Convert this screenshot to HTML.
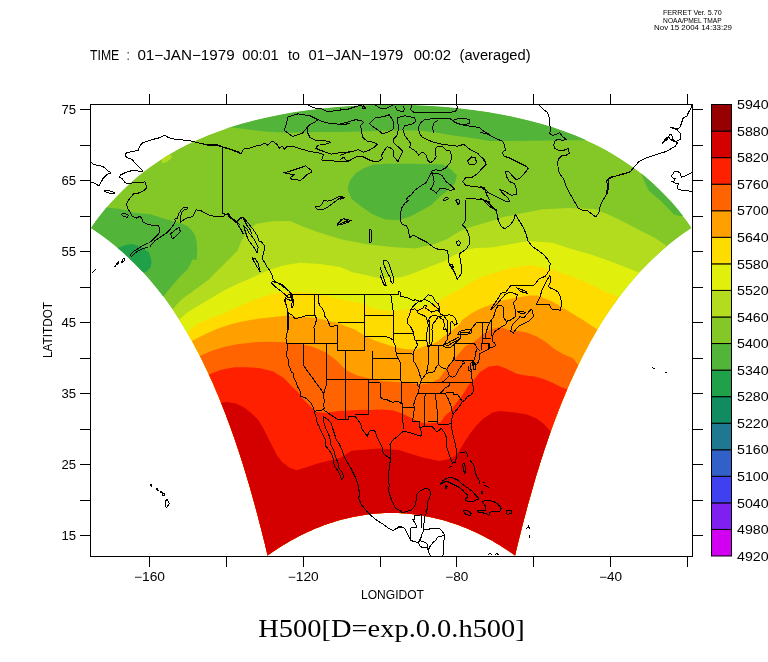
<!DOCTYPE html><html><head><meta charset="utf-8"><title>H500</title><style>html,body{margin:0;padding:0;background:#fff;}svg{display:block}text{font-family:"Liberation Sans",sans-serif;fill:#000}</style></head><body>
<svg width="768" height="662" viewBox="0 0 768 662">
<defs><clipPath id="fan"><polygon points="90.9,228.0 95.8,221.1 101.0,214.3 106.4,207.6 112.1,201.1 118.1,194.7 124.4,188.4 131.0,182.3 137.9,176.3 145.2,170.5 152.9,164.9 161.0,159.4 169.4,154.2 178.4,149.1 187.7,144.3 197.6,139.7 207.9,135.3 218.7,131.2 230.1,127.3 241.9,123.7 254.2,120.4 267.1,117.4 280.4,114.7 294.1,112.3 308.3,110.2 322.9,108.4 337.7,107.0 352.9,106.0 368.2,105.2 383.6,104.9 399.1,104.9 414.5,105.2 429.8,106.0 444.9,107.0 459.8,108.4 474.3,110.2 488.5,112.3 502.3,114.7 515.6,117.4 528.4,120.4 540.8,123.7 552.6,127.3 563.9,131.2 574.7,135.3 585.1,139.7 594.9,144.3 604.3,149.1 613.2,154.2 621.7,159.4 629.8,164.9 637.5,170.5 644.8,176.3 651.7,182.3 658.3,188.4 664.6,194.7 670.6,201.1 676.3,207.6 681.7,214.3 686.9,221.1 691.8,228.0 685.9,232.0 680.1,236.1 674.5,240.3 669.1,244.6 663.8,249.0 658.6,253.6 653.6,258.2 648.7,262.9 644.0,267.7 639.4,272.6 634.9,277.6 630.5,282.7 626.3,287.8 622.2,293.0 618.2,298.3 614.3,303.7 610.5,309.1 606.8,314.5 603.2,320.1 599.7,325.6 596.4,331.3 593.1,336.9 589.9,342.6 586.8,348.4 583.7,354.2 580.8,360.0 577.9,365.9 575.1,371.7 572.4,377.7 569.7,383.6 567.1,389.5 564.6,395.5 562.1,401.5 559.7,407.5 557.4,413.5 555.1,419.5 552.9,425.5 550.7,431.5 548.6,437.6 546.6,443.6 544.5,449.6 542.6,455.6 540.6,461.6 538.8,467.6 536.9,473.6 535.1,479.6 533.4,485.5 531.7,491.5 530.0,497.4 528.3,503.3 526.7,509.2 525.2,515.1 523.6,521.0 522.1,526.8 520.7,532.6 519.2,538.3 517.8,544.1 516.4,549.8 515.1,555.5 511.3,552.8 507.5,550.3 503.6,547.7 499.8,545.3 495.8,542.9 491.9,540.6 487.9,538.4 483.8,536.3 479.8,534.2 475.7,532.3 471.6,530.4 467.4,528.6 463.2,526.9 459.0,525.3 454.8,523.8 450.5,522.4 446.2,521.1 441.9,519.8 437.6,518.7 433.2,517.7 428.9,516.8 424.5,515.9 420.1,515.2 415.7,514.6 411.3,514.1 406.9,513.6 402.4,513.3 398.0,513.1 393.6,513.0 389.1,513.0 384.7,513.1 380.2,513.3 375.8,513.6 371.4,514.1 367.0,514.6 362.6,515.2 358.2,515.9 353.8,516.8 349.4,517.7 345.1,518.7 340.8,519.8 336.5,521.1 332.2,522.4 327.9,523.8 323.7,525.3 319.5,526.9 315.3,528.6 311.1,530.4 307.0,532.3 302.9,534.2 298.8,536.3 294.8,538.4 290.8,540.6 286.8,542.9 282.9,545.3 279.0,547.7 275.2,550.3 271.4,552.8 267.6,555.5 266.2,549.8 264.9,544.1 263.4,538.3 262.0,532.6 260.5,526.8 259.0,521.0 257.5,515.1 255.9,509.2 254.3,503.3 252.7,497.4 251.0,491.5 249.3,485.5 247.5,479.6 245.7,473.6 243.9,467.6 242.0,461.6 240.1,455.6 238.1,449.6 236.1,443.6 234.1,437.6 231.9,431.5 229.8,425.5 227.5,419.5 225.3,413.5 222.9,407.5 220.5,401.5 218.1,395.5 215.5,389.5 213.0,383.6 210.3,377.7 207.6,371.7 204.8,365.9 201.9,360.0 199.0,354.2 195.9,348.4 192.8,342.6 189.6,336.9 186.3,331.3 182.9,325.6 179.4,320.1 175.9,314.5 172.2,309.1 168.4,303.7 164.5,298.3 160.5,293.0 156.4,287.8 152.2,282.7 147.8,277.6 143.3,272.6 138.7,267.7 134.0,262.9 129.1,258.2 124.1,253.6 118.9,249.0 113.6,244.6 108.1,240.3 102.5,236.1 96.8,232.0"/></clipPath><clipPath id="frm"><rect x="90" y="104" width="603" height="453"/></clipPath></defs>
<g clip-path="url(#fan)">
<polygon points="90.9,228.0 95.8,221.1 101.0,214.3 106.4,207.6 112.1,201.1 118.1,194.7 124.4,188.4 131.0,182.3 137.9,176.3 145.2,170.5 152.9,164.9 161.0,159.4 169.4,154.2 178.4,149.1 187.7,144.3 197.6,139.7 207.9,135.3 218.7,131.2 230.1,127.3 241.9,123.7 254.2,120.4 267.1,117.4 280.4,114.7 294.1,112.3 308.3,110.2 322.9,108.4 337.7,107.0 352.9,106.0 368.2,105.2 383.6,104.9 399.1,104.9 414.5,105.2 429.8,106.0 444.9,107.0 459.8,108.4 474.3,110.2 488.5,112.3 502.3,114.7 515.6,117.4 528.4,120.4 540.8,123.7 552.6,127.3 563.9,131.2 574.7,135.3 585.1,139.7 594.9,144.3 604.3,149.1 613.2,154.2 621.7,159.4 629.8,164.9 637.5,170.5 644.8,176.3 651.7,182.3 658.3,188.4 664.6,194.7 670.6,201.1 676.3,207.6 681.7,214.3 686.9,221.1 691.8,228.0 685.9,232.0 680.1,236.1 674.5,240.3 669.1,244.6 663.8,249.0 658.6,253.6 653.6,258.2 648.7,262.9 644.0,267.7 639.4,272.6 634.9,277.6 630.5,282.7 626.3,287.8 622.2,293.0 618.2,298.3 614.3,303.7 610.5,309.1 606.8,314.5 603.2,320.1 599.7,325.6 596.4,331.3 593.1,336.9 589.9,342.6 586.8,348.4 583.7,354.2 580.8,360.0 577.9,365.9 575.1,371.7 572.4,377.7 569.7,383.6 567.1,389.5 564.6,395.5 562.1,401.5 559.7,407.5 557.4,413.5 555.1,419.5 552.9,425.5 550.7,431.5 548.6,437.6 546.6,443.6 544.5,449.6 542.6,455.6 540.6,461.6 538.8,467.6 536.9,473.6 535.1,479.6 533.4,485.5 531.7,491.5 530.0,497.4 528.3,503.3 526.7,509.2 525.2,515.1 523.6,521.0 522.1,526.8 520.7,532.6 519.2,538.3 517.8,544.1 516.4,549.8 515.1,555.5 511.3,552.8 507.5,550.3 503.6,547.7 499.8,545.3 495.8,542.9 491.9,540.6 487.9,538.4 483.8,536.3 479.8,534.2 475.7,532.3 471.6,530.4 467.4,528.6 463.2,526.9 459.0,525.3 454.8,523.8 450.5,522.4 446.2,521.1 441.9,519.8 437.6,518.7 433.2,517.7 428.9,516.8 424.5,515.9 420.1,515.2 415.7,514.6 411.3,514.1 406.9,513.6 402.4,513.3 398.0,513.1 393.6,513.0 389.1,513.0 384.7,513.1 380.2,513.3 375.8,513.6 371.4,514.1 367.0,514.6 362.6,515.2 358.2,515.9 353.8,516.8 349.4,517.7 345.1,518.7 340.8,519.8 336.5,521.1 332.2,522.4 327.9,523.8 323.7,525.3 319.5,526.9 315.3,528.6 311.1,530.4 307.0,532.3 302.9,534.2 298.8,536.3 294.8,538.4 290.8,540.6 286.8,542.9 282.9,545.3 279.0,547.7 275.2,550.3 271.4,552.8 267.6,555.5 266.2,549.8 264.9,544.1 263.4,538.3 262.0,532.6 260.5,526.8 259.0,521.0 257.5,515.1 255.9,509.2 254.3,503.3 252.7,497.4 251.0,491.5 249.3,485.5 247.5,479.6 245.7,473.6 243.9,467.6 242.0,461.6 240.1,455.6 238.1,449.6 236.1,443.6 234.1,437.6 231.9,431.5 229.8,425.5 227.5,419.5 225.3,413.5 222.9,407.5 220.5,401.5 218.1,395.5 215.5,389.5 213.0,383.6 210.3,377.7 207.6,371.7 204.8,365.9 201.9,360.0 199.0,354.2 195.9,348.4 192.8,342.6 189.6,336.9 186.3,331.3 182.9,325.6 179.4,320.1 175.9,314.5 172.2,309.1 168.4,303.7 164.5,298.3 160.5,293.0 156.4,287.8 152.2,282.7 147.8,277.6 143.3,272.6 138.7,267.7 134.0,262.9 129.1,258.2 124.1,253.6 118.9,249.0 113.6,244.6 108.1,240.3 102.5,236.1 96.8,232.0" fill="#84c828"/>
<polygon points="200.0,120.0 225.0,129.0 231.0,127.3 252.0,130.0 268.0,131.8 283.0,132.6 304.0,132.6 316.0,132.1 342.0,132.1 368.0,131.3 394.0,130.5 420.0,130.5 436.0,132.6 451.5,135.2 467.0,137.3 490.0,141.0 529.5,140.8 569.0,140.3 583.4,140.3 600.0,139.0 620.0,140.0 640.0,90.0 200.0,90.0" fill="#52b438"/>
<polygon points="347.6,189.1 349.5,181.2 355.4,173.4 363.2,168.6 373.0,164.6 388.6,163.7 408.1,163.7 427.7,164.1 443.3,164.6 451.1,169.5 457.0,175.4 455.0,183.2 447.2,191.0 439.4,196.9 431.6,204.7 421.8,210.5 410.1,216.4 398.4,220.3 384.7,219.3 373.0,214.5 361.2,206.6 351.5,198.8" fill="#52b438"/>
<polygon points="640.0,170.0 643.0,178.0 645.0,183.0 649.0,191.0 661.0,201.0 674.0,214.5 680.0,216.0 700.0,216.0 700.0,160.0" fill="#52b438"/>
<polygon points="80.0,205.0 105.9,207.2 110.6,208.0 118.4,208.8 126.2,210.3 134.1,212.7 141.9,213.4 149.7,214.2 157.5,216.6 165.3,218.9 173.1,221.2 180.9,223.6 187.2,225.9 191.9,230.6 195.0,235.3 196.6,241.6 197.3,249.4 196.6,260.0 192.7,259.3 188.0,268.7 179.8,276.9 172.7,285.1 166.9,292.1 164.5,295.6 150.0,300.0 80.0,300.0" fill="#52b438"/>
<polygon points="110.0,250.0 118.4,247.8 126.2,244.7 132.5,243.9 138.8,246.2 145.0,249.4 148.9,252.5 150.5,257.2 151.6,262.0 150.5,267.5 145.8,272.2 130.0,272.0" fill="#20a048"/>
<polygon points="161.5,160.5 164.0,156.0 168.0,154.5 172.0,155.5 171.0,158.5 166.0,162.5 162.5,163.0" fill="#b4dc1e"/>
<polygon points="150.0,330.0 172.7,309.7 176.2,305.0 183.3,298.0 190.3,293.3 199.7,286.2 209.1,279.2 218.4,269.8 227.8,260.5 237.2,251.1 241.5,241.0 248.9,229.0 256.7,223.8 272.3,221.2 290.0,221.0 303.0,226.4 316.0,231.6 342.1,239.4 368.1,244.6 394.2,247.2 415.0,248.5 433.2,244.6 446.3,239.4 459.3,231.6 472.3,226.4 490.0,221.5 503.2,217.1 516.3,214.5 542.6,209.2 568.9,207.9 595.2,209.2 608.4,214.5 624.9,222.4 643.1,232.1 655.1,238.1 664.2,244.2 680.0,256.0 680.0,600.0 150.0,600.0" fill="#b4dc1e"/>
<polygon points="160.0,340.0 179.8,319.0 188.0,312.0 199.7,305.0 211.4,298.0 223.1,290.9 237.2,283.9 253.6,276.9 270.0,269.8 284.0,265.2 300.0,262.8 320.0,264.0 340.0,267.0 347.2,270.0 351.9,272.3 361.3,273.9 370.6,276.3 376.9,277.8 389.4,277.8 400.9,277.3 410.0,274.6 419.2,271.0 428.3,267.3 437.4,263.7 444.7,260.9 452.0,256.4 459.3,252.7 466.6,250.0 475.0,248.0 492.0,247.5 510.1,244.2 528.3,241.1 552.4,242.7 570.5,248.7 591.7,254.7 612.8,262.3 628.0,268.3 640.0,272.9 665.0,285.0 665.0,600.0 160.0,600.0" fill="#e0f00c"/>
<polygon points="170.0,350.0 190.0,330.0 197.0,324.0 209.0,319.0 223.0,314.0 237.0,307.0 254.0,300.0 270.0,294.5 284.0,292.0 300.0,292.0 316.0,293.4 327.0,295.8 339.0,298.9 350.0,301.3 364.0,303.6 371.0,308.0 380.0,309.8 391.0,311.0 401.0,310.2 412.0,308.3 423.0,306.5 436.0,302.9 445.0,297.4 454.0,291.9 463.0,287.4 472.0,281.9 481.0,277.3 491.0,274.0 510.0,268.3 531.0,265.3 552.0,269.8 570.5,275.9 588.7,283.4 606.8,292.5 619.0,297.0 640.0,308.0 640.0,600.0 170.0,600.0" fill="#ffdc00"/>
<polygon points="175.0,355.0 192.6,340.4 203.0,335.2 216.0,329.2 229.0,324.7 242.0,321.4 257.7,318.8 273.3,316.9 288.0,315.5 296.0,316.9 305.0,316.9 314.4,317.7 322.2,319.2 331.6,321.6 338.0,323.1 345.6,326.3 355.0,329.4 364.4,335.6 373.4,340.0 379.3,342.0 391.0,345.9 402.8,348.8 414.6,349.8 420.0,348.0 426.3,345.5 431.5,344.5 436.7,341.9 440.8,338.8 445.0,335.6 449.2,332.5 453.3,329.4 457.5,326.3 460.6,323.1 462.0,320.0 472.0,312.9 481.1,308.3 490.3,304.7 499.4,301.0 508.5,299.2 517.6,297.4 530.0,295.6 537.3,295.5 552.4,301.6 567.5,310.6 582.6,319.7 596.2,328.8 615.0,342.0 615.0,600.0 175.0,600.0" fill="#ffa000"/>
<polygon points="185.0,365.0 200.0,356.0 211.0,351.0 224.0,347.0 237.0,344.3 252.5,342.4 268.0,341.7 284.0,342.2 299.0,343.8 312.0,346.4 325.0,352.0 336.0,360.0 346.0,370.0 357.0,375.5 370.0,378.5 383.0,381.2 399.0,382.2 411.0,383.2 420.0,384.2 426.0,383.7 432.0,382.8 436.4,380.0 439.0,379.0 444.0,372.0 448.0,367.0 453.0,360.6 457.5,355.4 461.7,350.2 465.8,346.0 472.0,342.9 478.0,338.8 482.5,334.6 487.0,331.5 491.0,329.4 500.0,327.0 509.0,330.0 518.0,331.0 527.5,332.8 536.6,336.4 545.7,341.9 554.8,349.2 564.0,354.6 573.0,358.3 578.5,365.6 595.0,380.0 595.0,600.0 185.0,600.0" fill="#ff6400"/>
<polygon points="195.0,382.0 209.5,374.2 221.3,369.8 234.3,367.2 247.3,367.2 260.3,368.2 273.3,371.6 283.8,378.0 291.0,385.5 298.4,392.8 303.9,400.0 309.4,405.5 316.7,411.9 324.0,412.8 331.2,411.9 340.0,411.0 350.0,410.5 360.0,409.7 370.0,410.0 380.0,409.4 392.5,410.2 403.4,414.1 411.3,418.0 419.0,421.9 426.9,423.4 434.7,422.7 441.0,422.0 443.7,417.4 447.3,413.8 451.0,411.0 453.7,406.5 456.5,402.8 460.0,398.0 463.0,394.6 465.6,390.0 469.0,384.6 473.0,381.0 476.5,376.4 480.0,372.0 489.0,366.5 498.0,365.6 507.0,369.0 516.6,373.8 525.7,375.6 534.8,376.5 544.0,379.2 553.0,383.0 562.0,387.4 567.6,389.3 585.0,398.0 585.0,600.0 195.0,600.0" fill="#ff2000"/>
<polygon points="205.0,410.0 220.0,402.8 227.3,401.9 236.5,403.7 243.7,407.3 251.0,412.8 258.3,420.1 262.9,427.4 267.4,436.5 272.0,445.6 276.6,454.7 282.0,462.0 289.3,467.5 296.6,470.2 305.7,467.5 316.7,463.8 327.6,461.1 340.0,458.0 351.6,450.8 367.2,449.5 380.0,448.4 389.4,449.2 398.8,450.0 411.3,453.9 423.8,457.8 439.4,460.9 447.2,459.4 455.0,456.3 459.7,450.0 464.4,442.2 470.6,432.8 476.9,425.0 483.1,418.8 492.5,412.5 500.0,410.9 509.3,412.0 518.4,413.0 527.5,414.8 536.6,418.4 543.9,423.9 549.4,430.0 555.0,440.0 555.0,600.0 205.0,600.0" fill="#d40000"/>
</g>
<g clip-path="url(#frm)" fill="none" stroke="#000" stroke-width="1" stroke-linejoin="round" shape-rendering="crispEdges">
<polyline points="91.0,162.2 93.9,164.8 98.8,165.2 103.7,167.1 107.7,170.7 111.2,173.0 107.7,174.0 104.7,176.9 102.8,178.9 100.8,182.8 98.8,185.8 95.9,183.8 92.0,182.4 91.0,182.8"/>
<polyline points="104.7,190.3 108.7,190.7 112.6,191.7 115.1,193.0 111.6,193.6 107.7,192.6 104.7,191.7 104.7,190.3"/>
<polyline points="240.0,153.4 235.3,151.4 229.4,149.1 223.5,147.5 215.7,145.1 209.8,145.1 205.8,144.5 200.0,143.2 192.1,141.2 180.3,139.6 174.4,139.2 168.5,137.7 164.6,135.3 159.7,137.7 153.8,139.2 148.9,140.6 143.0,142.6 140.1,145.5 138.1,150.4 133.2,151.4 127.3,152.4 125.3,154.4 126.3,157.3 132.2,159.3 134.2,162.2 137.1,165.2 140.1,168.1 142.0,170.1 142.6,171.4 138.1,171.1 133.2,170.1 129.3,171.4 125.3,172.6 120.4,175.0 119.5,176.9 122.4,178.9 125.3,182.8 129.3,183.8 133.2,182.8 139.1,182.8 145.0,181.8 146.0,184.8 146.9,187.7 144.0,190.7 140.1,192.3 137.1,193.6 134.2,193.0 132.2,195.6 130.3,197.6 128.3,200.5 126.3,204.4 128.3,209.3 130.3,212.3 132.2,216.2 136.1,218.2 140.1,216.2 142.0,219.2 143.0,222.1 146.9,224.1 150.9,225.0 154.8,226.0 158.7,225.0 159.7,230.0 158.7,233.9 154.8,237.8 151.8,240.8 148.9,242.7"/>
<polyline points="149.9,246.6 154.8,240.8 160.7,236.8 166.6,232.9 170.5,229.0 173.4,225.0 175.4,221.1 174.4,219.2 177.4,218.2 178.4,214.2 180.3,211.3 182.3,208.4 185.2,207.4 188.2,208.0 186.2,209.3 183.3,210.3 181.3,213.3 180.7,216.2 180.3,222.1 183.3,220.1 186.2,218.2 190.1,217.2 193.1,216.2 195.0,212.3 196.0,209.9 200.0,210.3 203.9,212.3 207.8,214.2 210.8,215.8 215.7,216.2 219.6,216.2 223.5,216.6 225.5,214.2 228.4,213.9 230.4,216.2 233.3,219.2 236.3,222.1 239.2,224.1 240.0,225.0"/>
<polyline points="222.7,147.5 222.7,213.9"/>
<polyline points="121.4,214.2 124.4,213.3 128.3,215.2 127.3,217.2 123.4,216.6 121.4,214.2"/>
<polyline points="170.5,233.9 176.4,229.0 179.3,227.0 180.3,231.9 177.4,234.9 172.5,238.8 170.5,233.9"/>
<polyline points="200.0,143.3 207.9,145.2 213.7,144.3 219.6,145.2 222.6,146.8 227.5,148.2 233.4,150.1 239.3,152.1 241.2,154.1 243.2,149.2 249.1,148.2 255.0,146.2 260.9,145.2 264.8,143.3 267.7,145.2 270.7,142.3 272.6,141.3 275.6,143.3 277.6,145.2 279.5,148.2 282.5,146.2 284.4,149.2 287.4,146.2 292.3,146.2 298.2,148.2 302.1,149.2 308.0,151.1 313.9,152.1 319.8,153.1 323.7,154.7 322.7,157.0 321.7,160.0 325.7,160.9 333.5,160.9 341.4,161.9 347.3,160.9 350.0,160.0"/>
<polyline points="222.6,146.8 222.6,213.0"/>
<polyline points="222.6,213.0 225.5,214.3 228.5,214.0 230.4,217.9 234.4,219.8 237.3,221.8 240.3,217.9 243.2,217.9 245.2,221.8 247.1,225.7 250.1,229.7 252.0,234.0"/>
<polyline points="237.3,223.8 241.2,229.7 243.2,234.0"/>
<polyline points="283.4,172.7 288.4,171.7 294.2,169.8 300.1,167.8 306.0,165.8 308.0,167.8 311.9,170.8 310.9,172.7 307.0,174.7 304.1,177.6 300.1,180.6 296.2,179.6 292.3,179.6 290.3,177.6 294.2,174.7 288.4,173.7 283.4,172.7"/>
<polyline points="314.9,207.1 319.8,206.1 322.7,203.2 323.7,200.2 327.6,201.2 331.6,200.2 335.5,198.2 339.4,196.3 344.3,197.3 339.4,198.2 335.5,201.2 331.6,204.1 327.6,207.1 323.7,209.0 317.8,210.0 314.9,207.1"/>
<polyline points="292.3,136.4 288.4,133.5 284.4,130.5 286.4,123.6 288.0,116.8 298.2,113.8 310.0,115.8 317.8,119.7 313.9,122.7 310.0,124.6 307.0,127.6 302.1,133.5 292.3,136.4"/>
<polyline points="307.0,127.6 308.0,133.5 310.0,137.4 315.8,140.3 325.7,140.9 330.6,142.3 325.7,144.3 317.8,145.2 315.8,148.2 319.8,150.1 325.7,152.1 331.6,154.1 337.4,153.1 345.3,152.1 350.0,152.1"/>
<polyline points="306.0,104.0 310.0,106.0 313.9,107.9 321.7,108.9 327.6,111.9 333.5,110.9 341.4,109.9 350.0,108.9"/>
<polyline points="317.8,119.7 325.7,122.7 333.5,123.6 341.4,124.6 350.0,123.6"/>
<polyline points="340.0,108.9 345.9,109.9 351.8,107.9 357.7,106.0 361.6,105.0"/>
<polyline points="375.3,105.0 379.3,107.9 385.2,108.9 389.1,106.9 393.0,105.0"/>
<polyline points="395.0,106.0 396.9,109.9 402.8,111.9 404.8,108.9 402.8,106.0"/>
<polyline points="411.7,105.0 410.7,109.9 414.6,112.8 426.4,112.8 438.2,112.8 450.0,112.8 455.8,110.9 457.8,106.9 455.8,105.0"/>
<polyline points="361.6,108.3 363.6,106.0 365.9,108.3 361.6,108.3"/>
<polyline points="369.5,123.6 375.3,117.7 383.2,116.8 389.1,114.8 392.0,118.7 394.0,123.6 393.0,129.5 387.1,132.5 382.2,133.5 377.3,129.5 371.4,125.6 369.5,123.6"/>
<polyline points="340.0,123.6 345.9,122.7 351.8,120.7 355.7,119.7 361.6,120.7 363.6,122.7 360.6,125.6 361.6,131.5 362.6,137.4 367.5,141.3 373.4,142.3 377.3,144.3 374.4,147.2 369.5,150.1 363.6,152.1 357.7,149.6 353.7,151.1 347.9,152.1 343.9,154.1 340.0,155.4"/>
<polyline points="340.0,160.0 343.9,157.0 345.9,160.0 347.9,161.9 351.8,159.0 357.7,156.0 363.6,157.0 369.5,160.0 375.3,161.9 379.3,160.9 383.2,158.0 381.2,156.0 383.2,152.1 387.1,146.8 391.1,148.2 394.0,151.1 393.0,156.0 396.0,159.0 397.9,161.9 400.9,155.1 402.8,151.1 398.9,147.2 396.0,145.2 393.0,142.3 394.0,138.4 396.9,135.4 397.9,131.5 398.9,127.6 397.9,123.6 397.9,117.7 404.8,115.8 414.6,117.7 415.6,121.7 410.7,124.6 404.8,125.6 402.8,129.5 404.8,135.4 407.7,139.3 410.7,143.3 409.7,147.2 412.6,149.2 416.6,152.1 418.5,155.1 422.5,152.1 426.4,155.1 427.4,160.0 430.3,162.9 433.3,160.9 436.2,157.0 435.2,151.1 436.2,147.2 442.1,146.2 446.0,150.1 450.0,151.1 451.9,157.0 450.0,162.9 446.0,167.8 440.1,170.8 436.2,169.8 432.3,170.8 430.3,174.7 426.4,182.5 418.5,187.4 414.6,190.4 411.7,194.3 407.7,197.3 405.8,200.6"/>
<polyline points="431.3,171.7 434.2,173.7 438.2,173.7 442.1,175.7 446.0,181.6 450.0,184.5 454.9,189.4 450.0,190.4 444.1,188.4 440.1,188.4 436.2,193.3 433.3,190.4 430.3,189.4 432.3,186.5 434.2,181.6 433.3,176.6 431.3,171.7"/>
<polyline points="418.5,127.6 420.5,122.7 424.4,119.7 432.3,118.7 442.1,118.1 450.0,118.7 453.9,121.7 457.8,123.6 465.7,125.6 473.5,126.6 479.4,127.6 485.3,132.5 490.0,134.4"/>
<polyline points="434.2,133.5 432.3,127.6 434.2,122.7 438.2,120.1"/>
<polyline points="418.5,127.6 419.5,133.5 422.5,137.4 428.4,140.3 434.2,142.3 442.1,144.3 450.0,145.2 457.8,146.2 463.7,144.3 469.6,149.2 477.4,153.1 483.3,159.0 486.3,164.9 481.4,169.8 477.4,173.7 471.6,177.6 465.7,177.6 462.7,181.6 465.7,185.5 473.5,186.5 481.4,187.4 485.3,190.4 487.3,196.3 490.0,200.2"/>
<polyline points="453.9,119.7 457.8,118.7 465.7,118.7 469.6,119.7 469.6,123.6 463.7,124.6 457.8,123.6 453.9,121.7 453.9,119.7"/>
<polyline points="467.6,160.9 471.6,157.0 475.5,158.0 476.5,162.9 473.5,164.9 469.6,164.9 467.6,160.9"/>
<polyline points="490.0,202.2 485.3,200.2 477.4,199.2 469.6,198.2 465.7,199.2"/>
<polyline points="443.1,200.2 446.0,197.3 449.0,198.2 446.0,200.2 443.1,200.2"/>
<polyline points="455.8,200.2 458.8,199.2 459.8,202.2 457.8,205.1 455.8,200.2"/>
<polyline points="340.0,196.3 343.9,197.9 340.0,199.2"/>
<polyline points="340.0,219.8 343.9,218.9 349.8,221.8 343.9,223.8 340.0,224.8"/>
<polyline points="480.0,132.5 485.9,133.5 491.8,136.4 497.7,139.3 502.6,141.3 504.5,145.2 505.5,150.1 502.6,152.1 503.6,156.0 509.5,158.0 515.3,160.9 521.2,163.9 527.1,166.8 528.1,168.8 524.2,173.7 519.3,178.6 516.3,179.6 512.4,175.7 508.5,171.7 505.5,171.7 506.5,176.6 509.5,181.6 514.4,183.5 516.3,188.4 516.3,194.3 511.4,195.3 506.5,192.4 502.6,190.4 499.6,189.4 503.6,194.3 508.5,198.2 509.5,201.2 505.5,201.2 499.6,198.2 493.7,195.3 487.9,192.4 483.9,187.4 480.0,186.5"/>
<polyline points="480.0,156.0 483.9,159.0 485.9,162.9 483.9,166.8 480.0,169.8"/>
<polyline points="480.0,198.2 483.9,200.2 487.9,202.2 491.8,206.1 495.7,210.0 497.7,215.9 498.7,221.8 501.6,226.7 504.5,228.7 509.5,225.7 513.4,220.8 515.3,214.0 517.3,217.9 521.2,223.8 524.2,229.7 526.1,234.0"/>
<polyline points="538.9,105.0 542.8,108.9 546.8,111.9 548.7,115.8 549.7,119.7 549.7,124.6 550.7,129.5 549.7,133.5 552.6,135.4 556.6,134.4 559.5,132.5 562.5,136.4 566.4,139.3 562.5,140.3 557.6,139.3 554.6,141.3 553.6,145.2 554.6,148.2 558.5,150.1 564.4,150.1 568.4,148.2 569.3,153.1 566.4,155.1 561.5,156.0 558.5,159.0 557.6,162.9 558.5,170.8 560.5,174.7 563.4,178.6 565.4,184.5 567.4,188.4 570.3,194.3 574.2,201.2 578.2,208.1 582.1,210.0 588.0,211.0 591.9,214.0 595.8,216.9 598.8,213.0 599.8,208.1 601.7,202.2 604.7,197.3 607.6,192.4 608.6,186.5 608.6,181.6 607.6,179.6 609.6,178.6 613.5,176.6 617.4,175.7 623.3,173.7 630.0,171.7"/>
<polyline points="606.0,194.0 607.6,187.7 606.8,180.9 610.6,177.1 621.1,174.8 630.2,171.8 634.7,166.5 639.3,161.2 645.3,158.2 654.4,155.2 666.5,151.4 675.5,146.1 677.8,142.3 674.0,141.6 670.2,139.3 668.7,136.3 665.7,138.6 662.7,143.1 667.2,139.3 669.5,134.8 671.8,134.8 672.5,139.3 675.5,141.6 680.1,139.3 680.1,133.3 676.3,128.7 670.2,127.2 677.0,129.5 680.1,127.2 681.6,122.7 683.1,118.2 686.9,115.9 689.1,111.4 691.4,107.6 691.4,104.6"/>
<polyline points="692.1,172.5 689.1,174.1 684.6,176.3 681.6,177.1 680.1,173.3 677.0,171.0 674.0,171.8 672.5,174.8 671.0,176.3 672.5,177.8 675.5,178.6 674.0,180.9 671.8,181.6 675.5,183.1 678.5,183.9 677.8,186.1 677.0,188.4 680.1,189.9 686.1,190.7 692.1,191.4"/>
<polyline points="222.8,213.7 227.7,214.7 229.6,217.7 232.6,219.6 235.5,222.6 239.5,218.7 243.4,217.7 245.3,219.6 249.3,224.5 253.2,229.5 257.1,235.3 259.1,241.2 262.0,242.2 264.0,245.2 264.0,251.1 263.0,255.0 262.0,258.9 265.0,262.8 266.9,266.8 269.9,270.7 271.8,274.6 272.8,278.5 274.8,281.5 278.7,283.4 282.6,286.4 286.6,289.3 289.5,291.3 291.5,293.3 292.5,296.2 291.5,300.1 293.4,303.1 292.5,298.2 290.5,294.2 287.6,295.2 285.6,297.2 284.6,300.1 285.6,304.1 287.6,310.0 288.5,313.9 288.5,317.8 288.5,330.0"/>
<polyline points="243.4,225.5 245.3,231.4 247.3,237.3 249.3,241.2 252.2,245.2 255.2,249.1 257.1,253.0 258.1,247.1 256.1,243.2 254.2,239.3 251.2,235.3 249.3,233.4 247.3,229.5 244.4,226.5 243.4,225.5"/>
<polyline points="252.2,257.9 255.2,258.9 258.1,262.8 259.1,267.7 260.1,271.7 257.1,266.8 254.2,261.8 252.2,257.9"/>
<polyline points="271.8,281.5 276.8,282.5 281.7,284.4 285.6,287.4 288.5,290.3 290.5,293.3 290.5,297.2 287.6,297.2 283.6,293.3 278.7,289.3 274.8,286.4 271.8,283.4 271.8,281.5"/>
<polyline points="336.6,225.5 339.6,221.6 343.5,218.7 347.4,219.6 351.4,220.6 345.5,221.6 340.6,223.6 336.6,225.5"/>
<polyline points="408.9,200.0 405.0,203.1 401.9,207.8 400.3,214.1 400.3,220.3 401.9,224.2 406.6,225.8 408.1,228.9 408.9,233.6 409.7,237.5 413.6,235.2 417.5,237.5 422.2,239.8 426.9,242.2 430.0,244.5 433.1,246.9 437.8,249.2 442.5,249.7 447.2,250.3 448.0,253.9 448.0,258.6 448.8,262.5 450.3,265.6 452.7,268.8 455.0,273.4 457.3,279.7 458.1,278.1 460.5,275.0 462.0,271.1 461.2,265.6 460.5,260.9 459.7,256.2 458.9,253.9 462.8,251.6 466.7,248.4 469.1,244.5 469.8,239.1 468.3,233.6 466.7,229.7 464.4,226.6 462.0,225.0 464.4,222.7 465.9,218.8 465.9,214.1 465.2,209.4 465.9,206.2 465.2,202.3 465.2,200.0"/>
<polyline points="449.5,264.8 451.9,264.1 453.4,267.2 451.9,268.4 449.5,264.8"/>
<polyline points="456.6,241.4 458.9,240.6 460.5,243.0 459.7,245.3 457.3,245.3 456.6,241.4"/>
<polyline points="483.1,200.0 486.2,203.1 489.4,206.2 492.5,208.6 496.4,209.4 497.2,215.6 498.0,220.3 500.0,223.4"/>
<polyline points="456.6,200.0 457.3,203.1 458.1,204.7 459.7,203.1 459.7,200.0"/>
<polyline points="383.1,260.9 386.2,260.2 388.6,262.5 390.2,267.2 391.7,271.9 393.3,276.6 394.1,281.2 392.5,283.6 390.9,281.2 390.2,277.3 387.8,273.4 385.5,268.8 383.9,264.8 383.1,260.9"/>
<polyline points="380.0,267.2 381.6,271.9 383.1,276.6 384.7,281.2 386.2,285.2 384.7,285.6 383.1,282.8 381.6,278.9 380.0,275.0"/>
<polyline points="148.0,243.1 142.7,245.5 138.0,248.6 133.3,251.7 130.2,254.5 131.4,256.4 134.1,253.7 138.0,250.9 142.7,248.6 148.0,247.0"/>
<polyline points="114.6,267.3 116.9,263.4 118.5,261.9 118.1,263.4 116.1,265.0"/>
<polyline points="120.8,263.0 122.4,261.1 122.8,259.1 124.3,258.8 124.7,260.3 123.5,261.9 121.6,263.0"/>
<polyline points="92.3,272.4 95.8,269.3"/>
<polyline points="369.3,229.0 371.2,230.0 371.5,236.0 371.0,242.5 369.5,242.0 369.3,236.0 369.3,229.0"/>
<polyline points="395.0,529.4 399.0,526.4 402.0,526.9 405.0,528.9 407.0,532.9 409.0,536.9 410.5,540.3 414.9,541.8 418.4,542.8 419.9,545.8 421.9,547.3 424.9,547.8 426.9,547.3 427.9,549.8 428.9,552.8 430.4,556.0"/>
<polyline points="421.9,514.9 414.9,515.4 414.4,519.4 412.4,519.4 415.9,523.9 416.4,527.4 411.0,527.9 410.0,531.9 410.0,537.9 410.5,540.3"/>
<polyline points="421.9,514.9 421.9,528.4"/>
<polyline points="426.9,508.9 426.4,512.9 424.9,515.9 424.4,519.9 423.9,523.9 423.4,528.4 423.9,529.9 427.9,529.4 431.9,528.4 435.9,528.4 439.9,528.9 441.9,530.9 443.9,533.9 444.4,535.9 443.9,541.8 443.4,549.8 442.9,556.0"/>
<polyline points="423.9,529.9 421.9,533.9 420.9,537.9 419.4,540.8 418.4,542.8"/>
<polyline points="419.4,540.8 422.9,541.3 425.9,542.8 427.4,544.8 426.9,547.3"/>
<polyline points="443.9,535.4 440.9,536.4 437.9,536.9 435.9,539.9 433.9,541.8 431.9,543.8 430.4,545.8 428.9,548.8 427.9,549.8"/>
<polyline points="460.2,453.0 463.4,452.4 466.0,451.7 467.3,454.3 468.0,456.9"/>
<polyline points="469.9,460.2 472.6,463.4 474.5,467.3 475.2,472.6 477.1,477.1 479.1,480.4 479.7,483.6"/>
<polyline points="462.8,464.1 464.1,463.4 465.4,466.7 466.0,471.2 464.7,473.2 463.4,469.9 462.8,466.0 462.8,464.1"/>
<polyline points="483.0,483.0 484.9,482.3"/>
<polyline points="484.3,485.6 486.2,486.2 489.5,487.5"/>
<polyline points="481.7,490.8 483.0,492.1 482.3,493.4 481.0,492.7 481.7,490.8"/>
<polyline points="449.1,467.3 451.7,466.0"/>
<polyline points="440.0,484.3 442.6,481.0 446.5,478.4 450.4,477.5 454.3,478.4 458.2,480.4 460.8,483.0 463.4,484.9 466.0,486.9 469.9,489.5 473.2,492.1 475.2,494.7 477.8,497.3 479.1,499.2 476.5,499.9 473.9,501.2 469.9,501.2 466.0,500.9 465.4,499.2 466.7,497.9 468.0,496.6 467.3,494.7 464.1,492.1 462.8,490.1 460.8,488.8 458.2,486.9 455.6,485.6 453.0,484.3 450.4,483.0 447.8,481.7 445.2,481.7 442.6,483.0 440.0,484.9"/>
<polyline points="445.2,485.6 447.2,486.2 446.5,488.8 445.2,488.2 445.2,485.6"/>
<polyline points="481.7,501.8 485.6,500.5 489.5,500.9 493.4,501.2 497.3,503.8 499.9,506.4 501.2,509.0 499.9,511.0 496.0,511.6 492.1,511.6 489.5,512.9 488.8,515.5 486.2,513.6 483.0,512.9 479.1,512.3 477.1,511.0 480.4,510.3 484.9,511.0 485.6,507.7 484.9,505.1 483.6,503.2 481.7,501.8"/>
<polyline points="463.4,511.0 466.0,510.3 469.3,511.6 471.2,513.6 470.6,515.3 467.3,514.9 464.7,513.6 463.4,511.0"/>
<polyline points="506.4,510.3 511.0,510.3 511.6,513.6 507.1,514.2 506.4,510.3"/>
<polyline points="652.5,367.5 655.0,369.0"/>
<polyline points="664.5,372.5 667.0,372.5"/>
<polyline points="526.5,529.0 528.5,526.0 529.5,529.0"/>
<polyline points="529.0,535.0 530.0,538.0"/>
<polyline points="488.0,555.0 490.0,553.0 492.0,555.0"/>
<polyline points="495.0,555.0 497.0,553.5 499.0,555.0"/>
<polyline points="410.4,310.4 414.6,308.7 416.9,311.1 420.0,309.4 422.6,308.3 424.6,305.5 426.9,305.1 425.3,308.3 428.0,309.7 431.9,312.2 437.6,310.1 439.2,312.2 439.5,308.3 438.4,304.0 435.3,301.6 432.6,296.2 428.0,294.8 424.6,298.7 421.1,301.2 418.4,301.9 413.4,305.8 410.4,310.4"/>
<polyline points="426.9,346.6 429.2,346.3 430.7,345.6 432.6,341.0 433.0,335.3 431.9,329.6 433.0,323.9 435.3,321.1 437.6,317.5 438.4,316.8 435.7,315.0 431.9,316.1 429.9,317.5 427.6,321.8 428.4,325.3 427.6,328.2 426.9,333.1 426.5,337.4 426.9,341.7 427.6,344.5 426.9,346.6"/>
<polyline points="438.8,316.5 443.4,315.8 449.2,314.7 453.0,315.8 455.7,318.9 457.2,323.2 454.9,325.3 451.8,321.1 450.3,323.2 450.7,328.2 450.3,333.1 447.6,336.7 447.2,332.4 445.7,328.9 443.8,329.6 444.2,323.9 443.4,319.7 440.7,318.2 438.8,316.5"/>
<polyline points="443.4,345.9 446.5,347.7 450.3,347.4 454.9,343.8 460.3,338.1 457.6,337.8 454.5,339.5 449.9,341.7 446.5,343.8 444.5,343.1 443.4,345.9"/>
<polyline points="457.6,334.6 460.7,334.9 466.4,334.6 471.1,333.1 471.4,328.9 468.4,329.6 462.6,330.3 459.1,332.1 457.6,334.6"/>
<polyline points="389.2,485.8 388.5,480.1 388.8,471.6 389.6,464.5 391.0,457.8 390.4,451.7 390.0,444.6 392.3,440.4 398.1,436.1 400.4,433.3 403.8,431.1 409.6,432.6 413.8,434.0 417.7,435.4 420.7,436.1 421.9,434.0 420.0,427.6 424.2,426.2 427.6,426.9 431.9,426.2 436.1,431.1 438.0,431.1 441.5,428.3 444.2,432.6 446.5,437.5 446.1,443.2 446.8,447.5 448.8,453.1 450.3,458.1 452.6,463.1 455.3,462.4 456.5,457.4 456.8,451.7 455.3,444.6 454.5,440.4 453.0,434.7 451.5,427.6 451.5,421.9 452.2,416.9 453.8,413.4 457.2,409.1 459.9,405.6 462.6,401.3 464.9,400.6 467.2,396.3 470.3,395.6 473.7,391.4 472.6,382.8 472.2,379.3 471.1,375.8 471.1,370.1 470.3,363.7 472.2,361.5 473.4,367.9 474.9,370.1 475.7,366.5 474.1,362.3 476.0,365.1 478.3,362.3 479.9,356.6 479.9,353.7 483.7,351.6 487.6,349.5 489.9,348.1 492.6,347.4 495.3,345.9 494.9,343.1 492.6,341.7 492.2,337.4 494.5,331.7 497.9,329.6 501.4,326.8 504.9,325.3 506.8,323.2 507.2,321.1 511.4,319.7 515.2,316.8 516.0,311.9 514.8,308.3 513.3,302.6 516.0,299.8 517.2,294.8 512.5,292.7 508.7,292.7 504.9,294.8 501.0,299.1 497.2,304.0 493.3,307.6 490.6,309.7 493.3,305.5 497.2,299.8 501.0,293.4 506.0,292.0 510.6,285.6 518.3,285.6 526.0,285.6 533.7,285.6 539.4,278.5 545.2,276.4 549.0,270.7 550.2,263.6 547.1,258.6 543.3,254.3 537.5,250.1 531.7,245.8 527.9,240.8 526.0,233.8"/>
<polyline points="510.6,331.0 513.3,333.1 517.2,327.5 520.2,325.3 526.0,322.5 529.8,320.4 533.7,316.1 531.7,309.0 528.7,311.9 524.1,317.5 519.8,316.8 516.8,320.4 512.5,324.6 510.6,331.0"/>
<polyline points="516.8,311.1 522.1,314.0 526.0,312.6 520.2,311.1 516.8,311.1"/>
<polyline points="536.4,304.0 539.8,297.6 542.1,289.8 545.2,283.4 549.8,275.6 551.0,280.6 548.3,286.3 551.0,288.4 554.8,289.8 558.6,292.7 560.6,297.6 561.7,304.8 560.2,310.4 556.7,309.0 551.7,309.0 549.0,304.0 543.3,304.0 536.4,304.0"/>
<polyline points="516.4,287.7 526.0,291.3 527.1,293.4 520.2,291.3 516.4,287.7"/>
<polyline points="292.4,294.1 291.3,296.9 293.6,299.8 293.9,304.8 292.0,307.6 291.3,304.8 292.8,301.2 289.7,300.1 285.1,298.4 285.5,301.9 287.4,309.0 287.8,313.6 288.0,318.9 287.6,325.3 287.2,331.7 285.9,338.1 287.0,343.8 287.0,350.9 286.3,355.2 288.6,360.1 289.0,365.8 291.6,372.2 293.6,373.6 293.9,377.9 295.9,382.1 297.4,386.4 300.5,392.1 300.9,396.3 305.1,397.8 308.9,400.6 310.9,402.7 313.5,407.7 314.3,411.2 315.8,416.2 317.4,423.3 319.3,426.9 321.6,432.6 325.1,438.9 325.8,443.2 325.1,445.3 329.3,450.3 332.4,455.3 333.5,460.2 334.3,465.9 338.5,471.6 341.6,479.4 343.9,477.3 342.0,471.6 339.3,469.5 338.1,463.1 335.8,457.4 333.9,451.0 330.8,444.6 329.7,436.8 326.2,429.7 323.9,422.6 323.1,416.2 328.1,419.8 330.8,422.6 333.1,429.7 336.6,440.4 339.3,443.9 342.0,450.3 344.7,457.4 347.7,463.1 351.2,468.8 355.4,477.3 358.5,486.5 359.6,495.0 358.5,497.9 361.2,504.3 365.0,509.2 370.4,514.9 376.2,519.9 381.9,523.4 387.7,527.7 393.4,530.5 398.4,527.7 402.3,527.7"/>
<polyline points="389.2,485.8 388.5,490.8 390.8,497.9 393.8,505.0 395.8,508.5 400.0,510.6 402.3,512.8 406.9,511.4 411.1,509.9 413.4,507.8 415.7,503.5 416.9,494.3 420.3,490.8 425.3,488.6 429.6,489.3 430.7,494.3 428.0,501.4 426.9,510.6 424.9,511.4"/>
<polyline points="168.7,502.1 166.8,499.3 165.3,501.4 165.3,506.4 166.4,507.5 169.5,503.5 168.7,502.1"/>
<polyline points="164.9,493.6 162.6,492.9 162.2,495.0 164.9,495.7 164.9,493.6"/>
<polyline points="161.0,491.5 159.9,492.2 162.2,492.2 161.0,491.5"/>
<polyline points="157.2,487.9 156.0,489.3 158.3,490.8 157.2,487.9"/>
<polyline points="151.8,484.4 150.3,485.1 151.4,486.5 151.8,484.4"/>
<polyline points="420.0,301.2 424.6,299.4 429.9,301.9 435.7,306.9 438.4,309.0 439.2,311.9 441.1,314.7 443.0,315.0 447.2,320.4 447.6,336.7 447.2,339.5 444.9,343.1 444.9,344.5 447.6,345.9 453.0,342.4 457.6,340.2 460.7,337.4 460.5,334.9 459.9,333.1 464.5,332.4 469.1,332.4 471.1,328.9 473.0,326.8 476.0,323.2 477.2,322.5"/>
<polyline points="427.6,321.8 429.9,320.4 429.2,329.6 429.2,340.2 429.9,343.8 430.7,345.5"/>
<polyline points="290.5,294.1 398.6,294.1 398.6,291.4 400.0,292.0 400.7,296.2 405.0,297.3 408.4,298.0 412.7,300.5 415.3,299.8 420.0,301.2"/>
<polyline points="477.2,322.5 489.5,322.5 491.0,320.4 492.9,318.2 494.1,315.4 495.3,310.4 498.3,305.1 501.8,305.8 503.7,307.6 503.7,317.5 506.4,321.8"/>
<polyline points="287.8,313.6 291.6,314.3 294.7,318.2 299.3,317.9 304.7,316.1 307.0,315.4 315.1,315.4"/>
<polyline points="314.5,294.1 314.5,312.6 315.1,315.4 316.6,318.9 315.5,323.9 313.9,327.5 314.6,331.0 314.6,343.8"/>
<polyline points="287.0,343.8 337.6,343.8"/>
<polyline points="318.3,294.1 318.3,301.3 319.7,305.5 321.2,306.9 323.9,311.1 324.7,316.1 327.0,318.9 328.5,322.5 330.1,326.0 332.4,326.8 335.8,325.3 337.6,326.0 337.6,350.9 364.4,350.9"/>
<polyline points="337.6,322.5 364.4,322.5"/>
<polyline points="364.4,294.1 364.4,350.9"/>
<polyline points="303.2,343.8 303.2,365.1 323.8,393.5 323.9,398.5 324.7,400.6 323.5,404.9 324.3,407.7 323.5,409.8"/>
<polyline points="326.0,343.8 326.0,385.7 323.8,393.5"/>
<polyline points="326.0,379.3 372.1,379.3"/>
<polyline points="345.2,350.9 345.2,419.6"/>
<polyline points="372.1,350.9 372.1,379.3"/>
<polyline points="314.3,411.2 323.5,409.8 337.7,419.6 348.5,419.6 348.5,416.4 355.0,416.4 355.4,416.6 360.8,424.0 361.9,429.0 367.3,436.1 369.6,431.1 374.6,430.4 378.1,439.6 381.9,446.8 383.5,453.8 389.6,458.1 391.0,457.8"/>
<polyline points="354.6,414.8 368.2,414.8 368.2,382.8 380.0,382.8 380.0,396.6 383.1,399.2 387.3,399.9 391.5,402.0 394.2,402.0 398.4,401.3 401.1,403.4 402.9,403.8"/>
<polyline points="368.5,382.8 368.5,379.3"/>
<polyline points="372.1,379.3 400.7,379.3"/>
<polyline points="400.7,379.3 401.3,382.8 401.3,390.7 401.1,403.4"/>
<polyline points="372.1,358.0 398.1,358.0"/>
<polyline points="400.7,379.3 400.7,364.4 399.6,360.8 398.1,358.0 396.1,353.7 395.8,349.5 395.0,345.2 393.1,340.2 389.6,337.8 385.8,336.7 364.4,336.7"/>
<polyline points="364.4,315.8 393.2,315.8"/>
<polyline points="393.2,315.8 393.1,311.1 392.3,304.8 391.5,299.8 390.8,294.1"/>
<polyline points="393.2,315.8 393.6,320.4 393.6,333.1 393.1,340.2"/>
<polyline points="393.6,333.1 413.8,333.1"/>
<polyline points="410.7,310.4 409.6,314.7 408.0,318.2 407.7,323.9 410.7,326.8 413.8,333.1 414.2,338.8 416.1,341.0 417.7,345.2 414.2,350.2 413.0,355.2 413.0,360.1 416.1,365.1 417.7,367.9 420.3,376.5 421.9,379.4 420.3,382.8 419.6,386.4 418.0,392.8 416.1,397.1 413.8,404.1 414.2,408.4 413.8,414.1 412.3,421.9"/>
<polyline points="396.1,353.7 411.9,353.7 413.0,355.2"/>
<polyline points="416.1,340.2 426.9,340.2"/>
<polyline points="416.9,311.4 418.0,313.3 421.9,314.7 426.1,316.8 427.6,321.8"/>
<polyline points="428.0,345.9 428.0,365.1 427.6,368.6 426.1,373.6"/>
<polyline points="438.4,345.9 438.4,364.4"/>
<polyline points="428.0,345.9 443.4,345.9"/>
<polyline points="421.9,379.4 426.1,373.6 428.0,372.9 431.9,372.9 434.6,370.8 436.1,367.2 438.4,364.4 440.3,366.5 442.6,367.9 446.8,369.4 448.4,366.5 450.3,363.7 453.4,360.1 454.5,353.7"/>
<polyline points="420.3,382.8 450.3,382.1"/>
<polyline points="446.8,369.4 449.5,375.8 442.6,382.1"/>
<polyline points="450.3,382.1 449.2,385.7 445.3,387.8 440.3,393.5 417.3,393.5"/>
<polyline points="401.3,382.8 417.8,382.8 418.0,386.4 419.6,386.4"/>
<polyline points="402.9,403.8 402.9,407.7 414.0,407.7"/>
<polyline points="402.9,407.7 402.9,421.9 403.8,429.0"/>
<polyline points="412.3,421.9 419.4,421.9 420.0,427.6"/>
<polyline points="425.3,393.5 424.6,400.6 424.4,415.5 424.6,426.2"/>
<polyline points="435.3,393.5 436.9,408.4 437.6,412.7 437.6,421.9"/>
<polyline points="427.6,421.9 437.6,421.9 438.0,424.0 448.4,424.7 449.2,423.3 451.1,424.0"/>
<polyline points="444.9,393.5 448.4,399.2 451.1,406.3 452.6,414.1"/>
<polyline points="440.3,393.5 444.9,393.5 449.2,392.1 453.4,392.8 453.8,394.9 458.0,394.9 462.2,401.3"/>
<polyline points="450.3,382.1 472.6,382.5"/>
<polyline points="449.5,375.8 452.2,377.2 455.7,375.8 458.8,369.4 461.1,366.5 463.4,363.0 465.3,363.0 462.6,361.2 458.8,360.1 454.9,360.1 454.5,353.7"/>
<polyline points="454.9,360.0 473.0,360.0"/>
<polyline points="454.8,353.7 454.8,343.8"/>
<polyline points="454.8,343.8 474.5,343.8 475.7,345.2 477.2,348.4 479.9,350.9"/>
<polyline points="477.2,348.4 475.7,352.3 475.3,356.6 474.1,359.4"/>
<polyline points="482.2,322.5 482.6,332.4 482.8,338.5 481.8,343.8 481.4,350.2"/>
<polyline points="489.5,322.5 487.6,327.5 486.0,333.1 485.6,338.8"/>
<polyline points="482.8,338.5 491.4,338.8"/>
<polyline points="481.8,343.8 489.9,343.8 489.9,348.1"/>
<polyline points="488.3,343.8 488.3,348.8"/>
<polyline points="491.8,336.0 491.4,326.0 491.0,320.4"/>
<polyline points="473.0,360.0 473.0,369.0 475.9,369.0"/>
<polyline points="468.4,365.8 468.7,370.1 471.1,372.2"/>
</g>
<g stroke="#000" stroke-width="1" fill="none" shape-rendering="crispEdges">
<rect x="90.5" y="104.5" width="602" height="452"/>
<line x1="149.5" y1="94" x2="149.5" y2="104"/>
<line x1="149.5" y1="557" x2="149.5" y2="567"/>
<line x1="226.5" y1="94" x2="226.5" y2="104"/>
<line x1="226.5" y1="557" x2="226.5" y2="567"/>
<line x1="303.5" y1="94" x2="303.5" y2="104"/>
<line x1="303.5" y1="557" x2="303.5" y2="567"/>
<line x1="380.5" y1="94" x2="380.5" y2="104"/>
<line x1="380.5" y1="557" x2="380.5" y2="567"/>
<line x1="456.5" y1="94" x2="456.5" y2="104"/>
<line x1="456.5" y1="557" x2="456.5" y2="567"/>
<line x1="533.5" y1="94" x2="533.5" y2="104"/>
<line x1="533.5" y1="557" x2="533.5" y2="567"/>
<line x1="610.5" y1="94" x2="610.5" y2="104"/>
<line x1="610.5" y1="557" x2="610.5" y2="567"/>
<line x1="687.5" y1="94" x2="687.5" y2="104"/>
<line x1="687.5" y1="557" x2="687.5" y2="567"/>
<line x1="80" y1="109.5" x2="90" y2="109.5"/>
<line x1="693" y1="109.5" x2="703" y2="109.5"/>
<line x1="80" y1="145.5" x2="90" y2="145.5"/>
<line x1="693" y1="145.5" x2="703" y2="145.5"/>
<line x1="80" y1="180.5" x2="90" y2="180.5"/>
<line x1="693" y1="180.5" x2="703" y2="180.5"/>
<line x1="80" y1="216.5" x2="90" y2="216.5"/>
<line x1="693" y1="216.5" x2="703" y2="216.5"/>
<line x1="80" y1="251.5" x2="90" y2="251.5"/>
<line x1="693" y1="251.5" x2="703" y2="251.5"/>
<line x1="80" y1="287.5" x2="90" y2="287.5"/>
<line x1="693" y1="287.5" x2="703" y2="287.5"/>
<line x1="80" y1="322.5" x2="90" y2="322.5"/>
<line x1="693" y1="322.5" x2="703" y2="322.5"/>
<line x1="80" y1="358.5" x2="90" y2="358.5"/>
<line x1="693" y1="358.5" x2="703" y2="358.5"/>
<line x1="80" y1="393.5" x2="90" y2="393.5"/>
<line x1="693" y1="393.5" x2="703" y2="393.5"/>
<line x1="80" y1="429.5" x2="90" y2="429.5"/>
<line x1="693" y1="429.5" x2="703" y2="429.5"/>
<line x1="80" y1="464.5" x2="90" y2="464.5"/>
<line x1="693" y1="464.5" x2="703" y2="464.5"/>
<line x1="80" y1="500.5" x2="90" y2="500.5"/>
<line x1="693" y1="500.5" x2="703" y2="500.5"/>
<line x1="80" y1="535.5" x2="90" y2="535.5"/>
<line x1="693" y1="535.5" x2="703" y2="535.5"/>
</g>
<text x="76" y="114.0" font-size="12.3" text-anchor="end" textLength="14.6" lengthAdjust="spacingAndGlyphs">75</text>
<text x="76" y="185.0" font-size="12.3" text-anchor="end" textLength="14.6" lengthAdjust="spacingAndGlyphs">65</text>
<text x="76" y="256.0" font-size="12.3" text-anchor="end" textLength="14.6" lengthAdjust="spacingAndGlyphs">55</text>
<text x="76" y="327.0" font-size="12.3" text-anchor="end" textLength="14.6" lengthAdjust="spacingAndGlyphs">45</text>
<text x="76" y="398.0" font-size="12.3" text-anchor="end" textLength="14.6" lengthAdjust="spacingAndGlyphs">35</text>
<text x="76" y="469.0" font-size="12.3" text-anchor="end" textLength="14.6" lengthAdjust="spacingAndGlyphs">25</text>
<text x="76" y="540.0" font-size="12.3" text-anchor="end" textLength="14.6" lengthAdjust="spacingAndGlyphs">15</text>
<text x="149.5" y="581" font-size="12" text-anchor="middle" textLength="31.0" lengthAdjust="spacingAndGlyphs">−160</text>
<text x="303.2" y="581" font-size="12" text-anchor="middle" textLength="31.0" lengthAdjust="spacingAndGlyphs">−120</text>
<text x="456.8" y="581" font-size="12" text-anchor="middle" textLength="23.0" lengthAdjust="spacingAndGlyphs">−80</text>
<text x="610.5" y="581" font-size="12" text-anchor="middle" textLength="23.0" lengthAdjust="spacingAndGlyphs">−40</text>
<text x="361" y="598.5" font-size="12.5" textLength="63" lengthAdjust="spacingAndGlyphs">LONGIDOT</text>
<text transform="translate(52,358) rotate(-90)" x="0" y="0" font-size="12.5" textLength="56" lengthAdjust="spacingAndGlyphs">LATITDOT</text>
<text x="90.0" y="59.5" font-size="14" textLength="29.3" lengthAdjust="spacingAndGlyphs">TIME</text>
<text x="126.8" y="59.5" font-size="14" textLength="2.8" lengthAdjust="spacingAndGlyphs">:</text>
<text x="137.4" y="59.5" font-size="14" textLength="97.3" lengthAdjust="spacingAndGlyphs">01−JAN−1979</text>
<text x="242.3" y="59.5" font-size="14" textLength="36.4" lengthAdjust="spacingAndGlyphs">00:01</text>
<text x="288.0" y="59.5" font-size="14" textLength="11.9" lengthAdjust="spacingAndGlyphs">to</text>
<text x="308.5" y="59.5" font-size="14" textLength="94.7" lengthAdjust="spacingAndGlyphs">01−JAN−1979</text>
<text x="413.8" y="59.5" font-size="14" textLength="37.2" lengthAdjust="spacingAndGlyphs">00:02</text>
<text x="459.5" y="59.5" font-size="14" textLength="71.1" lengthAdjust="spacingAndGlyphs">(averaged)</text>
<text x="662.9" y="15" font-size="8" textLength="58.8" lengthAdjust="spacingAndGlyphs">FERRET Ver. 5.70</text>
<text x="663.1" y="22.8" font-size="8" textLength="58.6" lengthAdjust="spacingAndGlyphs">NOAA/PMEL TMAP</text>
<text x="654.1" y="30.2" font-size="8" textLength="77.9" lengthAdjust="spacingAndGlyphs">Nov 15 2004 14:33:29</text>
<text x="258.3" y="636.9" font-size="25.7" style="font-family:'Liberation Serif',serif" textLength="266.5" lengthAdjust="spacingAndGlyphs">H500[D=exp.0.0.h500]</text>
<rect x="711.5" y="529.44" width="20" height="26.56" fill="#d200f0" stroke="#000" stroke-width="1"/>
<rect x="711.5" y="502.88" width="20" height="26.56" fill="#8020f0" stroke="#000" stroke-width="1"/>
<rect x="711.5" y="476.32" width="20" height="26.56" fill="#4040f0" stroke="#000" stroke-width="1"/>
<rect x="711.5" y="449.76" width="20" height="26.56" fill="#3060c8" stroke="#000" stroke-width="1"/>
<rect x="711.5" y="423.21" width="20" height="26.56" fill="#207890" stroke="#000" stroke-width="1"/>
<rect x="711.5" y="396.65" width="20" height="26.56" fill="#108c60" stroke="#000" stroke-width="1"/>
<rect x="711.5" y="370.09" width="20" height="26.56" fill="#20a048" stroke="#000" stroke-width="1"/>
<rect x="711.5" y="343.53" width="20" height="26.56" fill="#52b438" stroke="#000" stroke-width="1"/>
<rect x="711.5" y="316.97" width="20" height="26.56" fill="#84c828" stroke="#000" stroke-width="1"/>
<rect x="711.5" y="290.41" width="20" height="26.56" fill="#b4dc1e" stroke="#000" stroke-width="1"/>
<rect x="711.5" y="263.85" width="20" height="26.56" fill="#e0f00c" stroke="#000" stroke-width="1"/>
<rect x="711.5" y="237.29" width="20" height="26.56" fill="#ffdc00" stroke="#000" stroke-width="1"/>
<rect x="711.5" y="210.74" width="20" height="26.56" fill="#ffa000" stroke="#000" stroke-width="1"/>
<rect x="711.5" y="184.18" width="20" height="26.56" fill="#ff6400" stroke="#000" stroke-width="1"/>
<rect x="711.5" y="157.62" width="20" height="26.56" fill="#ff2000" stroke="#000" stroke-width="1"/>
<rect x="711.5" y="131.06" width="20" height="26.56" fill="#d40000" stroke="#000" stroke-width="1"/>
<rect x="711.5" y="104.50" width="20" height="26.56" fill="#960000" stroke="#000" stroke-width="1"/>
<text x="737" y="560.6" font-size="13" textLength="31.6" lengthAdjust="spacingAndGlyphs">4920</text>
<text x="737" y="534.0" font-size="13" textLength="31.6" lengthAdjust="spacingAndGlyphs">4980</text>
<text x="737" y="507.5" font-size="13" textLength="31.6" lengthAdjust="spacingAndGlyphs">5040</text>
<text x="737" y="480.9" font-size="13" textLength="31.6" lengthAdjust="spacingAndGlyphs">5100</text>
<text x="737" y="454.4" font-size="13" textLength="31.6" lengthAdjust="spacingAndGlyphs">5160</text>
<text x="737" y="427.8" font-size="13" textLength="31.6" lengthAdjust="spacingAndGlyphs">5220</text>
<text x="737" y="401.2" font-size="13" textLength="31.6" lengthAdjust="spacingAndGlyphs">5280</text>
<text x="737" y="374.7" font-size="13" textLength="31.6" lengthAdjust="spacingAndGlyphs">5340</text>
<text x="737" y="348.1" font-size="13" textLength="31.6" lengthAdjust="spacingAndGlyphs">5400</text>
<text x="737" y="321.6" font-size="13" textLength="31.6" lengthAdjust="spacingAndGlyphs">5460</text>
<text x="737" y="295.0" font-size="13" textLength="31.6" lengthAdjust="spacingAndGlyphs">5520</text>
<text x="737" y="268.5" font-size="13" textLength="31.6" lengthAdjust="spacingAndGlyphs">5580</text>
<text x="737" y="241.9" font-size="13" textLength="31.6" lengthAdjust="spacingAndGlyphs">5640</text>
<text x="737" y="215.3" font-size="13" textLength="31.6" lengthAdjust="spacingAndGlyphs">5700</text>
<text x="737" y="188.8" font-size="13" textLength="31.6" lengthAdjust="spacingAndGlyphs">5760</text>
<text x="737" y="162.2" font-size="13" textLength="31.6" lengthAdjust="spacingAndGlyphs">5820</text>
<text x="737" y="135.7" font-size="13" textLength="31.6" lengthAdjust="spacingAndGlyphs">5880</text>
<text x="737" y="109.1" font-size="13" textLength="31.6" lengthAdjust="spacingAndGlyphs">5940</text>
</svg></body></html>
